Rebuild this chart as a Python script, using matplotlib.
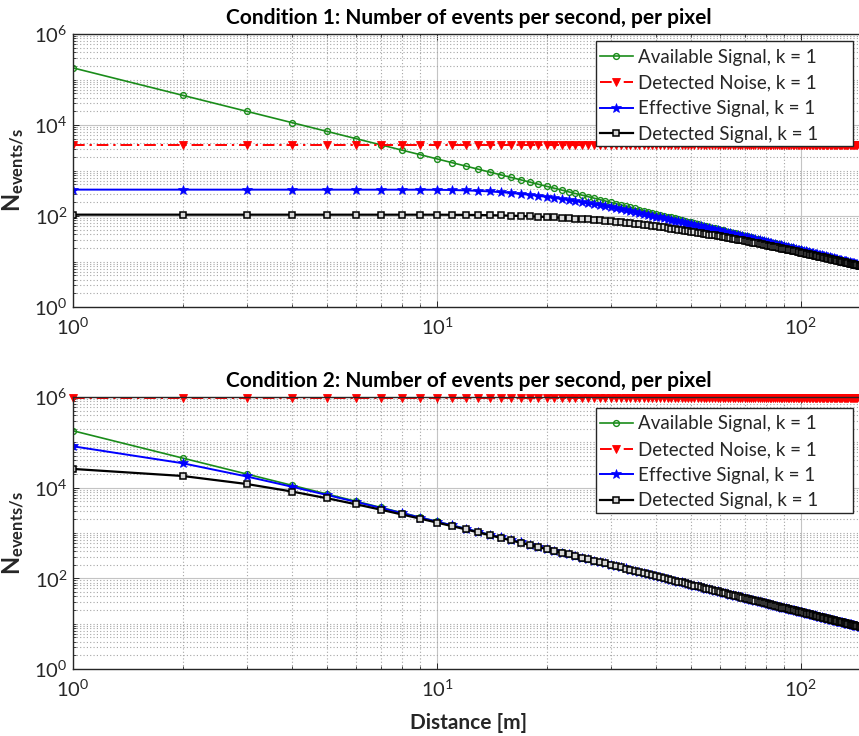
import numpy as np
import matplotlib
matplotlib.use("Agg")
import matplotlib.pyplot as plt
from matplotlib.patches import Rectangle
from matplotlib.ticker import FixedLocator, LogFormatterMathtext, NullFormatter

plt.rcParams['font.family'] = ['Lato', 'DejaVu Sans']
plt.rcParams['mathtext.fontset'] = 'custom'
plt.rcParams['mathtext.rm'] = 'Lato'
plt.rcParams['mathtext.it'] = 'Lato:italic'
plt.rcParams['mathtext.bf'] = 'Lato:bold'

# distance grid in metres
distance = np.arange(1, 151)

# events per second per pixel (same available signal in both conditions)
available = [
    180000, 45000, 20000, 11250, 7200, 5000, 3673, 2813, 2222, 1800,
    1488, 1250, 1065, 918.4, 800, 703.1, 622.8, 555.6, 498.6, 450,
    408.2, 371.9, 340.3, 312.5, 288, 266.3, 246.9, 229.6, 214.0, 200,
    187.3, 175.8, 165.3, 155.7, 146.9, 138.9, 131.5, 124.7, 118.3, 112.5,
    107.1, 102.0, 97.35, 92.98, 88.89, 85.07, 81.49, 78.13, 74.97, 72.0,
    69.20, 66.57, 64.08, 61.73, 59.50, 57.40, 55.40, 53.51, 51.71, 50.0,
    48.37, 46.83, 45.35, 43.95, 42.60, 41.32, 40.10, 38.93, 37.81, 36.73,
    35.71, 34.72, 33.78, 32.87, 32.0, 31.16, 30.36, 29.59, 28.84, 28.13,
    27.43, 26.77, 26.13, 25.51, 24.91, 24.34, 23.78, 23.24, 22.72, 22.22,
    21.74, 21.27, 20.81, 20.37, 19.94, 19.53, 19.13, 18.74, 18.37, 18.0,
    17.65, 17.30, 16.97, 16.64, 16.33, 16.02, 15.72, 15.43, 15.15, 14.88,
    14.61, 14.35, 14.10, 13.85, 13.61, 13.38, 13.15, 12.93, 12.71, 12.50,
    12.29, 12.09, 11.90, 11.71, 11.52, 11.34, 11.16, 10.99, 10.82, 10.65,
    10.49, 10.33, 10.18, 10.02, 9.88, 9.73, 9.59, 9.45, 9.32, 9.18,
    9.05, 8.93, 8.80, 8.68, 8.56, 8.44, 8.33, 8.22, 8.11, 8.00,
]

noise_level_c1 = 3650
noise_level_c2 = 960000

effective_c1 = [
    380, 380, 380, 380, 380, 380, 380, 379.8, 378.9, 376.7,
    372.4, 365.8, 357.0, 346.1, 333.7, 320.3, 306.2, 291.9, 277.7, 263.7,
    250.2, 237.2, 224.8, 213.0, 201.9, 191.4, 181.6, 172.3, 163.6, 155.5,
    147.9, 140.8, 134.0, 127.7, 121.9, 116.4, 111.2, 106.3, 101.6, 97.4,
    93.3, 89.5, 85.9, 82.5, 79.3, 76.2, 73.3, 70.6, 68.1, 65.6,
    63.3, 61.1, 59.0, 57.0, 55.1, 53.3, 51.55, 49.9, 48.3, 46.85,
    45.4, 44.1, 42.75, 41.5, 40.3, 39.15, 38.06, 37.0, 35.99, 35.01,
    34.09, 33.18, 32.32, 31.49, 30.69, 29.92, 29.18, 28.47, 27.77, 27.11,
    26.46, 25.85, 25.25, 24.67, 24.11, 23.58, 23.05, 22.54, 22.05, 21.58,
    21.13, 20.69, 20.25, 19.83, 19.43, 19.04, 18.66, 18.29, 17.93, 17.58,
    17.25, 16.91, 16.60, 16.28, 15.98, 15.69, 15.40, 15.12, 14.85, 14.59,
    14.33, 14.08, 13.84, 13.60, 13.37, 13.15, 12.93, 12.71, 12.50, 12.30,
    12.09, 11.90, 11.72, 11.53, 11.35, 11.17, 11.00, 10.83, 10.67, 10.50,
    10.35, 10.19, 10.05, 9.89, 9.75, 9.61, 9.47, 9.33, 9.21, 9.07,
    8.94, 8.83, 8.70, 8.58, 8.46, 8.35, 8.24, 8.13, 8.02, 7.92,
]

detected_c1 = [
    107.0, 107.0, 107.0, 107.0, 107.0, 107.0, 107.0, 107.0, 106.9, 106.8,
    106.4, 105.9, 105.1, 104.2, 103.0, 101.7, 100.2, 98.6, 97.0, 95.2,
    93.4, 91.5, 89.6, 87.7, 85.7, 83.8, 81.8, 79.9, 78.0, 76.1,
    74.2, 72.4, 70.6, 68.8, 67.1, 65.4, 63.7, 62.1, 60.4, 58.9,
    57.4, 55.9, 54.5, 53.1, 51.8, 50.4, 49.1, 47.9, 46.7, 45.6,
    44.4, 43.3, 42.3, 41.2, 40.2, 39.2, 38.3, 37.4, 36.5, 35.7,
    34.8, 34.0, 33.2, 32.4, 31.7, 31.0, 30.3, 29.6, 29.0, 28.35,
    27.74, 27.13, 26.56, 26.0, 25.45, 24.91, 24.40, 23.90, 23.41, 22.94,
    22.46, 22.04, 21.60, 21.16, 20.75, 20.36, 19.96, 19.58, 19.21, 18.85,
    18.50, 18.16, 17.83, 17.50, 17.19, 16.88, 16.59, 16.29, 16.01, 15.72,
    15.46, 15.19, 14.94, 14.68, 14.44, 14.20, 13.96, 13.73, 13.50, 13.29,
    13.07, 12.86, 12.66, 12.47, 12.27, 12.09, 11.90, 11.71, 11.53, 11.36,
    11.18, 11.02, 10.86, 10.71, 10.55, 10.39, 10.24, 10.09, 9.95, 9.81,
    9.68, 9.54, 9.42, 9.28, 9.15, 9.03, 8.90, 8.78, 8.67, 8.55,
    8.43, 8.34, 8.22, 8.11, 8.01, 7.91, 7.81, 7.71, 7.61, 7.52,
]

effective_c2 = [
    81800, 34600, 17650, 10465, 6870, 4839, 3585, 2761, 2190, 1779,
    1473, 1240, 1057, 912.8, 795.8, 699.8, 620.2, 553.5, 496.9, 448.7,
    407.1, 371.0, 339.5, 311.9, 287.4, 265.8, 246.5, 229.2, 213.7, 199.7,
    187.1, 175.6, 165.1, 155.5, 146.8, 138.8, 131.4, 124.6, 118.2, 112.4,
    107.0, 101.9, 97.29, 92.92, 88.84, 85.02, 81.45, 78.09, 74.93, 71.97,
    69.17, 66.54, 64.05, 61.70, 59.48, 57.38, 55.38, 53.49, 51.69, 49.98,
    48.36, 46.82, 45.34, 43.94, 42.59, 41.31, 40.09, 38.92, 37.80, 36.72,
    35.70, 34.71, 33.77, 32.86, 31.99, 31.15, 30.35, 29.58, 28.83, 28.12,
    27.43, 26.77, 26.13, 25.51, 24.91, 24.34, 23.78, 23.24, 22.72, 22.22,
    21.74, 21.27, 20.81, 20.37, 19.94, 19.53, 19.13, 18.74, 18.37, 18.0,
    17.65, 17.30, 16.97, 16.64, 16.33, 16.02, 15.72, 15.43, 15.15, 14.88,
    14.61, 14.35, 14.10, 13.85, 13.61, 13.38, 13.15, 12.93, 12.71, 12.50,
    12.29, 12.09, 11.90, 11.71, 11.52, 11.34, 11.16, 10.99, 10.82, 10.65,
    10.49, 10.33, 10.18, 10.02, 9.88, 9.73, 9.59, 9.45, 9.32, 9.18,
    9.05, 8.93, 8.80, 8.68, 8.56, 8.44, 8.33, 8.22, 8.11, 8.00,
]

detected_c2 = [
    25900, 18110, 12050, 8205, 5818, 4292, 3276, 2574, 2071, 1699,
    1418, 1201, 1028, 891.4, 779.5, 687.1, 610.2, 545.6, 490.5, 443.5,
    402.8, 367.4, 336.5, 309.4, 285.2, 264.0, 244.9, 227.8, 212.5, 198.7,
    186.2, 174.8, 164.4, 154.9, 146.2, 138.3, 130.9, 124.2, 117.8, 112.1,
    106.7, 101.6, 97.04, 92.69, 88.63, 84.83, 81.28, 77.93, 74.78, 71.83,
    69.04, 66.42, 63.94, 61.60, 59.39, 57.29, 55.30, 53.41, 51.62, 49.91,
    48.30, 46.77, 45.30, 43.90, 42.55, 41.28, 40.06, 38.89, 37.77, 36.70,
    35.68, 34.69, 33.75, 32.84, 31.97, 31.14, 30.34, 29.57, 28.82, 28.11,
    27.41, 26.75, 26.11, 25.49, 24.89, 24.32, 23.76, 23.22, 22.70, 22.21,
    21.73, 21.26, 20.80, 20.36, 19.93, 19.52, 19.12, 18.73, 18.36, 17.99,
    17.64, 17.29, 16.96, 16.63, 16.32, 16.01, 15.71, 15.42, 15.14, 14.87,
    14.60, 14.34, 14.09, 13.84, 13.60, 13.37, 13.14, 12.92, 12.70, 12.49,
    12.28, 12.08, 11.89, 11.70, 11.51, 11.33, 11.15, 10.98, 10.81, 10.64,
    10.48, 10.32, 10.17, 10.01, 9.87, 9.72, 9.58, 9.44, 9.31, 9.17,
    9.04, 8.92, 8.79, 8.67, 8.55, 8.43, 8.32, 8.21, 8.10, 7.99,
]

labels = ["Available Signal, k = 1", "Detected Noise, k = 1",
          "Effective Signal, k = 1", "Detected Signal, k = 1"]
titles = ["Condition 1: Number of events per second, per pixel",
          "Condition 2: Number of events per second, per pixel"]

INK = '#262626'
GREEN = '#1a8c1a'

W, H = 859, 736
fig = plt.figure(figsize=(W / 100, H / 100), dpi=100)

ax_left, ax_right = 73, 865
# (axes top, axes bottom, legend box top) in pixels from the top edge
panels = [(34, 307, 41), (397, 669, 407.5)]
legend_box_left, legend_box_right, legend_box_height = 596, 853, 105

conditions = [
    (noise_level_c1, effective_c1, detected_c1),
    (noise_level_c2, effective_c2, detected_c2),
]

y_major = [1, 1e2, 1e4, 1e6]
y_minor = [m * 10.0 ** k for k in range(6) for m in range(1, 10)
           if m * 10.0 ** k not in y_major]
x_major = [1, 10, 100]
x_minor = [m * 10.0 ** k for k in range(3) for m in range(2, 10)]

for i, ((top, bottom, leg_top), (noise_level, eff, det)) in enumerate(zip(panels, conditions)):
    ax = fig.add_axes([ax_left / W, 1 - bottom / H,
                       (ax_right - ax_left) / W, (bottom - top) / H])
    noise = np.full(distance.size, float(noise_level))

    ax.plot(distance, available, color=GREEN, lw=1.2, marker='o', ms=4.2,
            mfc='none', mew=1.0, label=labels[0])
    ax.plot(distance, noise, color='red', lw=1.4, ls=(0, (6, 2.5, 1.2, 2.5)),
            marker='v', ms=5.4, mfc='red', mew=0.6, label=labels[1],
            clip_on=(i == 0))
    ax.plot(distance, eff, color='blue', lw=1.4, marker='*', ms=7.5,
            mfc='blue', mew=0.5, label=labels[2])
    ax.plot(distance, det, color='black', lw=1.6, marker='s', ms=4.4,
            mfc='#d8d8d8', mew=1.1, label=labels[3])

    ax.set_xscale('log')
    ax.set_yscale('log')
    ax.set_xlim(1, 150)
    ax.set_ylim(1, 1e6)

    ax.xaxis.set_major_locator(FixedLocator(x_major))
    ax.xaxis.set_minor_locator(FixedLocator(x_minor))
    ax.yaxis.set_major_locator(FixedLocator(y_major))
    ax.yaxis.set_minor_locator(FixedLocator(y_minor))
    ax.xaxis.set_major_formatter(LogFormatterMathtext())
    ax.yaxis.set_major_formatter(LogFormatterMathtext())
    ax.xaxis.set_minor_formatter(NullFormatter())
    ax.yaxis.set_minor_formatter(NullFormatter())

    ax.set_axisbelow(True)
    ax.grid(which='major', color='#c4c4c4', ls='-', lw=0.8)
    ax.grid(which='minor', color='#a6a6a6', ls=(0, (1, 2)), lw=0.8)

    for sp in ax.spines.values():
        sp.set_color(INK)
        sp.set_linewidth(1.0)
    ax.tick_params(which='both', direction='in', top=True, right=True,
                   colors=INK, labelcolor=INK)
    ax.tick_params(which='major', length=4, width=0.7, labelsize=14.5)
    ax.tick_params(which='minor', length=2, width=0.6)
    ax.tick_params(axis='x', which='major', pad=7)
    ax.tick_params(axis='y', which='major', pad=4)

    ax.set_title(titles[i], fontsize=15, fontweight='bold', color='black', pad=7)
    ax.set_ylabel(r'$\mathbf{N_{events/s}}$', fontsize=17, color=INK)
    ax.yaxis.set_label_coords(-0.058, 0.5)

    # legend frame with the wide right margin, drawn under the legend entries
    frame = Rectangle((legend_box_left / W, 1 - (leg_top + legend_box_height) / H),
                      (legend_box_right - legend_box_left) / W, legend_box_height / H,
                      transform=fig.transFigure, facecolor='white', edgecolor=INK,
                      lw=1.0, zorder=4.5, clip_on=False)
    ax.add_artist(frame)

    leg = ax.legend(loc='upper left',
                    bbox_to_anchor=((legend_box_left + 4) / W, 1 - (leg_top + 8) / H),
                    bbox_transform=fig.transFigure, fontsize=13.5, frameon=False,
                    borderaxespad=0, borderpad=0, labelspacing=0.46,
                    handlelength=1.75, handletextpad=0.28, numpoints=1)
    for t in leg.get_texts():
        t.set_color(INK)

    if i == 1:
        ax.set_xlabel('Distance [m]', fontsize=15, fontweight='bold', color=INK)
        ax.xaxis.set_label_coords(0.5, -0.163)

fig.savefig('out.png', dpi=100)
